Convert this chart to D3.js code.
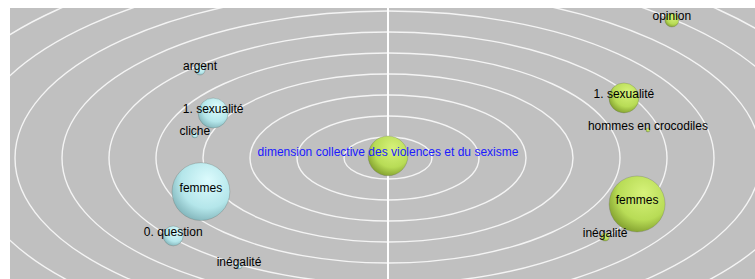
<!DOCTYPE html>
<html>
<head>
<meta charset="utf-8">
<script src="https://cdn.jsdelivr.net/npm/d3@7"></script>
<style>
  body { margin: 0; background: #fff; }
  svg { display: block; }
</style>
</head>
<body>
<svg id="chart" width="755" height="279"></svg>
<script>
// data - positions in "ring" units, weight = bubble size
var blueNames   = ["argent", "1. sexualité", "cliche", "femmes", "0. question", "inégalité"];
var blueX       = [-4.0, -3.72, -4.11, -3.98, -4.57, -3.17];
var blueY       = [4.19, 2.14, 1.10, -1.6, -3.71, -5.14];
var blueWeight  = [2.8, 25, 1, 93, 11, 1];

var greenNames  = ["dimension collective des violences et du sexisme", "opinion", "1. sexualité",
                   "hommes en crocodiles", "femmes", "inégalité"];
var greenX      = [0, 6.04, 5.02, 5.53, 5.30, 4.62];
var greenY      = [0.1, 6.57, 2.86, 1.33, -2.19, -3.76];
var greenWeight = [44, 5.4, 25, 0.44, 87, 1.8];

var rings = [1, 2, 3, 4, 5, 6, 7, 8, 9, 10];

var svg = d3.select("#chart");
var plot = {left: 10, top: 8, right: 755, bottom: 279};
var cx = 388, cy = 158;

// one ring unit = 47px across, 21px down
var x = d3.scaleLinear().domain([-8, 8]).range([cx - 376, cx + 376]);
var y = d3.scaleLinear().domain([-8, 8]).range([cy + 168, cy - 168]);
var r = d3.scaleSqrt().domain([0, 100]).range([0, 30]);

var defs = svg.append("defs");
defs.append("clipPath").attr("id", "clip")
    .append("rect")
    .attr("x", plot.left).attr("y", plot.top)
    .attr("width", plot.right - plot.left).attr("height", plot.bottom - plot.top);

function sphereGrad(id, c0, c1, c2) {
    var g = defs.append("radialGradient").attr("id", id)
        .attr("cx", "60%").attr("cy", "35%").attr("r", "70%")
        .attr("fx", "62%").attr("fy", "30%");
    g.append("stop").attr("offset", "0%").attr("stop-color", c0);
    g.append("stop").attr("offset", "65%").attr("stop-color", c1);
    g.append("stop").attr("offset", "100%").attr("stop-color", c2);
}
sphereGrad("gBlue", "#dcfbfd", "#b4e6ea", "#7fb2b8");
sphereGrad("gGreen", "#d6f27a", "#b8dc56", "#7f9c2c");

var g = svg.append("g").attr("clip-path", "url(#clip)");

g.append("rect")
    .attr("x", plot.left).attr("y", plot.top)
    .attr("width", plot.right - plot.left).attr("height", plot.bottom - plot.top)
    .attr("fill", "#c0c0c0");

g.selectAll(".ring")
    .data(rings)
    .enter().append("ellipse")
    .attr("class", "ring")
    .attr("cx", x(0)).attr("cy", y(0))
    .attr("rx", function(d) { return x(d) - x(0) - 3; })
    .attr("ry", function(d) { return y(0) - y(d); })
    .attr("fill", "none")
    .attr("stroke", "#f4f4f4")
    .attr("stroke-width", 1.4);

g.append("line")
    .attr("x1", x(0)).attr("x2", x(0))
    .attr("y1", plot.top).attr("y2", plot.bottom)
    .attr("stroke", "#fff").attr("stroke-width", 2);

function build(names, xs, ys, ws, grad, color) {
    return names.map(function(n, i) {
        return {name: n, x: xs[i], y: ys[i], w: ws[i], grad: grad, color: color};
    });
}
var points = build(blueNames, blueX, blueY, blueWeight, "gBlue", "#000")
    .concat(build(greenNames, greenX, greenY, greenWeight, "gGreen", "#000"));
points[blueNames.length].color = "#1a1aff";  // center label in blue

g.selectAll(".bubble")
    .data(points)
    .enter().append("circle")
    .attr("class", "bubble")
    .attr("cx", function(d) { return x(d.x); })
    .attr("cy", function(d) { return y(d.y); })
    .attr("r", function(d) { return r(d.w); })
    .attr("fill", function(d) { return "url(#" + d.grad + ")"; })
    .attr("stroke", "rgba(90,100,90,0.35)")
    .attr("stroke-width", 0.8);

g.selectAll(".label")
    .data(points)
    .enter().append("text")
    .attr("class", "label")
    .attr("x", function(d) { return x(d.x); })
    .attr("y", function(d) { return y(d.y); })
    .attr("text-anchor", "middle")
    .attr("font-family", "'Liberation Sans', Arial, sans-serif")
    .attr("font-size", 12)
    .attr("fill", function(d) { return d.color; })
    .text(function(d) { return d.name; });
</script>
</body>
</html>
